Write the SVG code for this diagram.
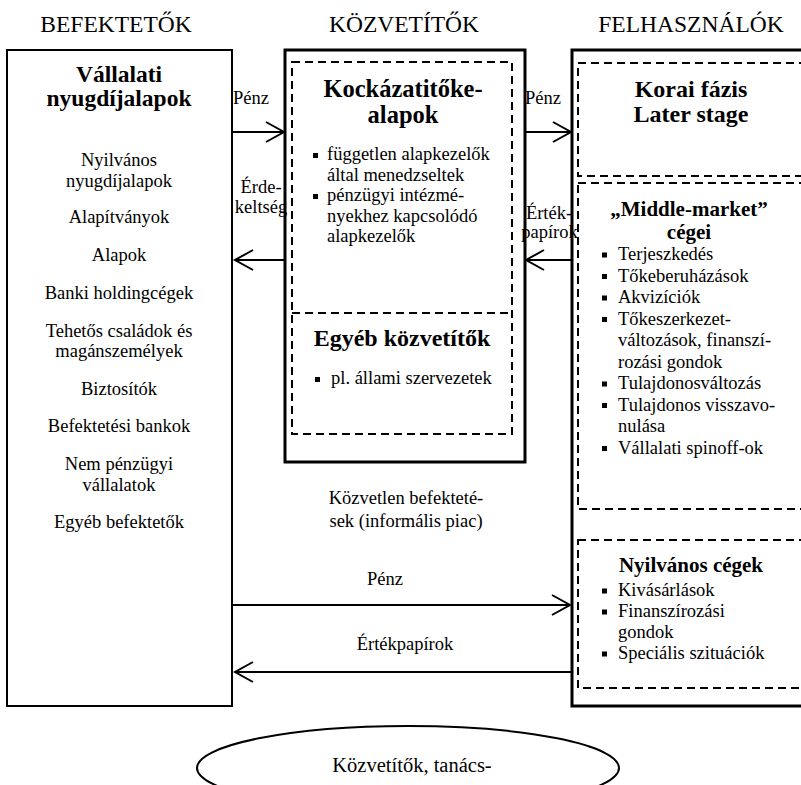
<svg xmlns="http://www.w3.org/2000/svg" width="801" height="785" viewBox="0 0 801 785">
<defs>
<style>
text{font-family:"Liberation Serif","Times New Roman",serif;fill:#000}
.hdr{font-size:23.5px;text-anchor:middle}
.t{font-size:24px;font-weight:bold;text-anchor:middle}
.t2{font-size:21px;font-weight:bold;text-anchor:middle}
.r{font-size:18.5px}
.c{text-anchor:middle}
.box{fill:none;stroke:#000}
.dash{fill:none;stroke:#000;stroke-width:2;stroke-dasharray:8 5}
.b{fill:#000}
.con{fill:none;stroke:#000;stroke-width:2}
</style>
<marker id="ah" markerUnits="userSpaceOnUse" markerWidth="22" markerHeight="24" refX="19" refY="11" orient="auto" viewBox="0 0 22 24">
<path d="M1,1 L19,11 L1,21" fill="none" stroke="#000" stroke-width="2"/>
</marker>
</defs>
<rect width="801" height="785" fill="#fff"/>

<g id="headers">
<text class="hdr" x="116" y="32">BEFEKTETŐK</text>
<text class="hdr" x="404" y="32">KÖZVETÍTŐK</text>
<text class="hdr" x="691" y="32">FELHASZNÁLÓK</text>
</g>

<g id="befektetok">
<rect class="box" x="7" y="50" width="225" height="656" stroke-width="2"/>
<text class="t" x="119" y="82" style="font-size:23.5px">Vállalati</text>
<text class="t" x="119" y="106" style="font-size:23.5px">nyugdíjalapok</text>
<text class="r c" x="119" y="166">Nyilvános</text>
<text class="r c" x="119" y="187">nyugdíjalapok</text>
<text class="r c" x="119" y="223">Alapítványok</text>
<text class="r c" x="119" y="261">Alapok</text>
<text class="r c" x="119" y="299">Banki holdingcégek</text>
<text class="r c" x="119" y="337">Tehetős családok és</text>
<text class="r c" x="119" y="357">magánszemélyek</text>
<text class="r c" x="119" y="395">Biztosítók</text>
<text class="r c" x="119" y="432">Befektetési bankok</text>
<text class="r c" x="119" y="470">Nem pénzügyi</text>
<text class="r c" x="119" y="491">vállalatok</text>
<text class="r c" x="119" y="528">Egyéb befektetők</text>
</g>

<g id="kozvetitok">
<rect class="box" x="285" y="50" width="240" height="412" stroke-width="3"/>
<g id="kockazati">
<rect class="dash" x="292" y="62" width="220" height="372"/>
<line class="dash" x1="292" y1="313" x2="512" y2="313"/>
<text class="t" x="403" y="97" style="font-size:24.5px">Kockázatitőke-</text>
<text class="t" x="403" y="123" style="font-size:24.5px">alapok</text>
<rect class="b" x="313" y="153" width="5" height="5"/>
<text class="r" x="327" y="160">független alapkezelők</text>
<text class="r" x="327" y="180.5">által menedzseltek</text>
<rect class="b" x="313" y="194" width="5" height="5"/>
<text class="r" x="327" y="201">pénzügyi intézmé-</text>
<text class="r" x="327" y="221.5">nyekhez kapcsolódó</text>
<text class="r" x="327" y="242">alapkezelők</text>
</g>
<g id="egyeb">
<text class="t" x="402" y="346">Egyéb közvetítők</text>
<rect class="b" x="315" y="377" width="5" height="5"/>
<text class="r" x="331" y="384">pl. állami szervezetek</text>
</g>
</g>

<g id="felhasznalok">
<rect class="box" x="572" y="50" width="236" height="656" stroke-width="3"/>
<g id="korai">
<rect class="dash" x="578" y="63" width="225" height="113"/>
<text class="t" x="691" y="97">Korai fázis</text>
<text class="t" x="691" y="122">Later stage</text>
</g>
<g id="middle">
<rect class="dash" x="578" y="183" width="225" height="326"/>
<text class="t2" x="689" y="216">„Middle-market”</text>
<text class="t2" x="689" y="239">cégei</text>
<rect class="b" x="602" y="252.5" width="5" height="5"/>
<text class="r" x="618" y="260">Terjeszkedés</text>
<rect class="b" x="602" y="274" width="5" height="5"/>
<text class="r" x="618" y="281.5">Tőkeberuházások</text>
<rect class="b" x="602" y="295.5" width="5" height="5"/>
<text class="r" x="618" y="303">Akvizíciók</text>
<rect class="b" x="602" y="317" width="5" height="5"/>
<text class="r" x="618" y="324.5">Tőkeszerkezet-</text>
<text class="r" x="618" y="346">változások, finanszí-</text>
<text class="r" x="618" y="367.5">rozási gondok</text>
<rect class="b" x="602" y="381.5" width="5" height="5"/>
<text class="r" x="618" y="389">Tulajdonosváltozás</text>
<rect class="b" x="602" y="403" width="5" height="5"/>
<text class="r" x="618" y="410.5">Tulajdonos visszavo-</text>
<text class="r" x="618" y="432">nulása</text>
<rect class="b" x="602" y="446" width="5" height="5"/>
<text class="r" x="618" y="453.5">Vállalati spinoff-ok</text>
</g>
<g id="nyilvanos">
<rect class="dash" x="578" y="540" width="225" height="148"/>
<text class="t2" x="691" y="572">Nyilvános cégek</text>
<rect class="b" x="602" y="588.5" width="5" height="5"/>
<text class="r" x="618" y="596">Kivásárlások</text>
<rect class="b" x="602" y="609.5" width="5" height="5"/>
<text class="r" x="618" y="617">Finanszírozási</text>
<text class="r" x="618" y="638">gondok</text>
<rect class="b" x="602" y="651.5" width="5" height="5"/>
<text class="r" x="618" y="659">Speciális szituációk</text>
</g>
</g>

<g id="kozvetlen">
<text class="r c" x="406" y="504">Közvetlen befekteté-</text>
<text class="r c" x="406" y="527">sek (informális piac)</text>
</g>

<g id="tanacsadok">
<ellipse cx="408" cy="768" rx="211" ry="42" fill="none" stroke="#000" stroke-width="2"/>
<text x="412" y="772" style="font-size:20.5px;text-anchor:middle">Közvetítők, tanács-</text>
</g>

<g id="connectors">
<line class="con" x1="232" y1="132" x2="284" y2="132" marker-end="url(#ah)"/>
<line class="con" x1="285" y1="260" x2="235" y2="260" marker-end="url(#ah)"/>
<line class="con" x1="525" y1="132" x2="571" y2="132" marker-end="url(#ah)"/>
<line class="con" x1="572" y1="260" x2="526" y2="260" marker-end="url(#ah)"/>
<line class="con" x1="232" y1="605" x2="570" y2="605" marker-end="url(#ah)"/>
<line class="con" x1="572" y1="672" x2="235" y2="672" marker-end="url(#ah)"/>
<text class="r" x="233" y="104">Pénz</text>
<text class="r c" x="261" y="193">Érde-</text>
<text class="r c" x="261" y="213">keltség</text>
<text class="r" x="525" y="104">Pénz</text>
<text class="r c" x="549" y="219">Érték-</text>
<text class="r c" x="549.5" y="238">papírok</text>
<text class="r c" x="385" y="585">Pénz</text>
<text class="r c" x="405" y="650">Értékpapírok</text>
</g>
</svg>
